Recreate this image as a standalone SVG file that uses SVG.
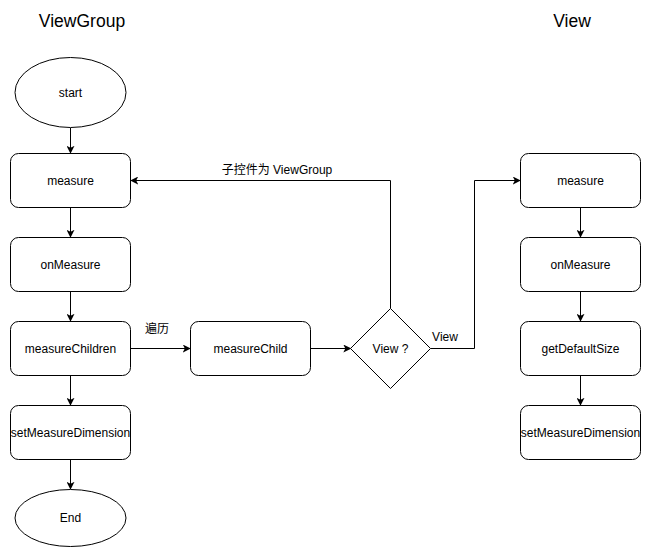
<svg xmlns="http://www.w3.org/2000/svg" width="651" height="558" viewBox="0 0 651 558">
  <style>
    .box { fill: #ffffff; stroke: #000000; stroke-width: 1; }
    .lbl { font-family: "Liberation Sans", Arial, sans-serif; font-size: 12px; fill: #000000; text-anchor: middle; }
    .cjk { font-family: "Liberation Sans", "Noto Sans CJK SC", sans-serif; font-size: 12px; fill: #000000; text-anchor: middle; }
    .title { font-family: "Liberation Sans", Arial, sans-serif; font-size: 17.5px; fill: #000000; text-anchor: middle; }
    .edge { fill: none; stroke: #000000; stroke-width: 1; marker-end: url(#arrow); }
  </style>
  <defs>
    <marker id="arrow" viewBox="0 0 10 10" refX="9" refY="5" markerWidth="8" markerHeight="8" markerUnits="userSpaceOnUse" orient="auto">
      <path d="M0,0 L10,5 L0,10 L2.5,5 Z" fill="#000000"/>
    </marker>
  </defs>

  <rect width="651" height="558" fill="#ffffff"/>

  <!-- column titles -->
  <text class="title" x="82" y="27">ViewGroup</text>
  <text class="title" x="572" y="27">View</text>

  <!-- connectors -->
  <g id="connectors">
    <path class="edge" d="M70.5,128 L70.5,153"/>
    <path class="edge" d="M70.5,207.5 L70.5,237"/>
    <path class="edge" d="M70.5,291.5 L70.5,321"/>
    <path class="edge" d="M70.5,375.5 L70.5,405"/>
    <path class="edge" d="M70.5,459.5 L70.5,489"/>
    <path class="edge" d="M130.5,348.5 L190,348.5"/>
    <path class="edge" d="M310.5,348.5 L350.5,348.5"/>
    <path class="edge" d="M390.5,308.5 L390.5,180.5 L131,180.5"/>
    <path class="edge" d="M430.5,348.5 L474.5,348.5 L474.5,180.5 L520,180.5"/>
    <path class="edge" d="M580.5,207.5 L580.5,237"/>
    <path class="edge" d="M580.5,291.5 L580.5,321"/>
    <path class="edge" d="M580.5,375.5 L580.5,405"/>
    <text class="cjk" x="157" y="333">遍历</text>
    <text class="cjk" x="277" y="174">子控件为 ViewGroup</text>
    <text class="lbl" x="445" y="341">View</text>
  </g>

  <!-- ViewGroup column -->
  <g id="vg-start">
    <ellipse class="box" cx="70.5" cy="92.5" rx="55.5" ry="35"/>
    <text class="lbl" x="70.5" y="96.5">start</text>
  </g>
  <g id="vg-measure">
    <rect class="box" x="10.5" y="153.5" width="120" height="54" rx="8"/>
    <text class="lbl" x="70.5" y="184.5">measure</text>
  </g>
  <g id="vg-onMeasure">
    <rect class="box" x="10.5" y="237.5" width="120" height="54" rx="8"/>
    <text class="lbl" x="70.5" y="268.5">onMeasure</text>
  </g>
  <g id="vg-measureChildren">
    <rect class="box" x="10.5" y="321.5" width="120" height="54" rx="8"/>
    <text class="lbl" x="70.5" y="352.5">measureChildren</text>
  </g>
  <g id="vg-setMeasureDimension">
    <rect class="box" x="10.5" y="405.5" width="120" height="54" rx="8"/>
    <text class="lbl" x="70.5" y="436.5">setMeasureDimension</text>
  </g>
  <g id="vg-end">
    <ellipse class="box" cx="70.5" cy="518" rx="55.5" ry="28.5"/>
    <text class="lbl" x="70.5" y="522">End</text>
  </g>

  <!-- child dispatch -->
  <g id="measureChild">
    <rect class="box" x="190.5" y="321.5" width="120" height="54" rx="8"/>
    <text class="lbl" x="250.5" y="352.5">measureChild</text>
  </g>
  <g id="isView">
    <polygon class="box" points="390.5,308.5 430.5,348.5 390.5,388.5 350.5,348.5"/>
    <text class="lbl" x="390.5" y="352.5">View ?</text>
  </g>

  <!-- View column -->
  <g id="v-measure">
    <rect class="box" x="520.5" y="153.5" width="120" height="54" rx="8"/>
    <text class="lbl" x="580.5" y="184.5">measure</text>
  </g>
  <g id="v-onMeasure">
    <rect class="box" x="520.5" y="237.5" width="120" height="54" rx="8"/>
    <text class="lbl" x="580.5" y="268.5">onMeasure</text>
  </g>
  <g id="v-getDefaultSize">
    <rect class="box" x="520.5" y="321.5" width="120" height="54" rx="8"/>
    <text class="lbl" x="580.5" y="352.5">getDefaultSize</text>
  </g>
  <g id="v-setMeasureDimension">
    <rect class="box" x="520.5" y="405.5" width="120" height="54" rx="8"/>
    <text class="lbl" x="580.5" y="436.5">setMeasureDimension</text>
  </g>
</svg>
